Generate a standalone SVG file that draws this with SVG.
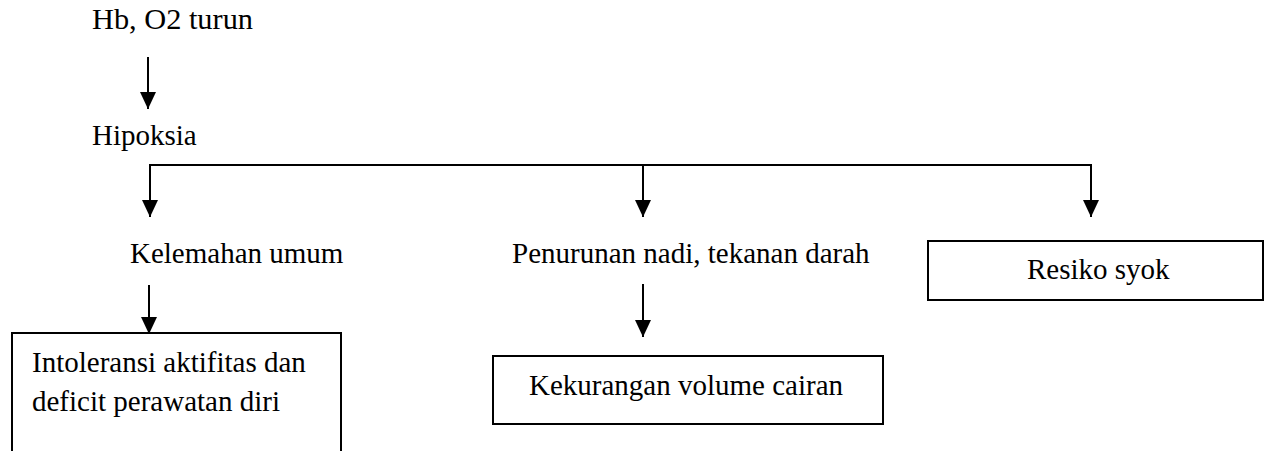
<svg xmlns="http://www.w3.org/2000/svg" width="1268" height="451" viewBox="0 0 1268 451">
<style>
text{font-family:"Liberation Serif","Times New Roman",serif;font-size:29px;fill:#000}
.box{fill:#fff;stroke:#000;stroke-width:2}
.ln{fill:none;stroke:#000;stroke-width:2}
</style>
<defs>
<marker id="ah" markerUnits="userSpaceOnUse" markerWidth="17" markerHeight="17" refX="17" refY="8" orient="auto" viewBox="0 0 17 16">
<path d="M0,0 L17,8 L0,16 Z" fill="#000"/>
</marker>
</defs>
<rect width="1268" height="451" fill="#fff"/>
<g id="connectors">
<line class="ln" x1="148" y1="57" x2="148" y2="109" marker-end="url(#ah)"/>
<polyline class="ln" points="150,217 150,165 1091,165 1091,217" marker-end="url(#ah)"/>
<line class="ln" x1="150" y1="166" x2="150" y2="217" marker-end="url(#ah)"/>
<line class="ln" x1="643" y1="165" x2="643" y2="217" marker-end="url(#ah)"/>
<line class="ln" x1="149" y1="285" x2="149" y2="334" marker-end="url(#ah)"/>
<line class="ln" x1="643" y1="284" x2="643" y2="337" marker-end="url(#ah)"/>
</g>
<g id="n-hb"><text x="92" y="29" textLength="161" lengthAdjust="spacingAndGlyphs">Hb, O2 turun</text></g>
<g id="n-hipoksia"><text x="92" y="145">Hipoksia</text></g>
<g id="n-kelemahan"><text x="130" y="263">Kelemahan umum</text></g>
<g id="n-penurunan"><text x="512" y="263">Penurunan nadi, tekanan darah</text></g>
<g id="n-resiko"><rect class="box" x="928" y="241" width="335" height="59"/><text x="1027" y="279">Resiko syok</text></g>
<g id="n-intoleransi"><rect class="box" x="12" y="333" width="329" height="140"/><text x="32" y="372">Intoleransi aktifitas dan</text><text x="32" y="411">deficit perawatan diri</text></g>
<g id="n-kekurangan"><rect class="box" x="493" y="356" width="390" height="68"/><text x="529" y="395">Kekurangan volume cairan</text></g>
</svg>
